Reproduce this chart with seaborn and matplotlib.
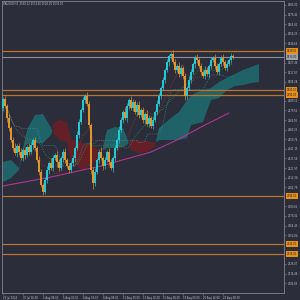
import numpy as np
import pandas as pd
import matplotlib
matplotlib.use("Agg")
import matplotlib.pyplot as plt
import matplotlib.transforms as mtransforms
import seaborn as sns

# ---------------- data ----------------
first_open = 2482
close = [2491, 2484, 2472, 2462, 2450, 2442, 2437, 2444, 2438, 2432,
         2440, 2435, 2443, 2438, 2445, 2450, 2442, 2430, 2418, 2405,
         2398, 2410, 2420, 2427, 2422, 2432, 2435, 2428, 2422, 2432,
         2438, 2430, 2424, 2420, 2427, 2432, 2442, 2455, 2468, 2480,
         2490, 2494, 2486, 2465, 2420, 2407, 2418, 2430, 2438, 2432,
         2424, 2430, 2438, 2428, 2422, 2432, 2442, 2450, 2460, 2470,
         2478, 2472, 2484, 2490, 2482, 2488, 2478, 2485, 2475, 2480,
         2470, 2476, 2466, 2472, 2464, 2470, 2478, 2486, 2494, 2502,
         2510, 2520, 2528, 2534, 2536, 2528, 2520, 2524, 2516, 2522,
         2514, 2494, 2502, 2510, 2518, 2526, 2532, 2530, 2524, 2518,
         2514, 2520, 2516, 2524, 2530, 2532, 2524, 2518, 2526, 2532,
         2528, 2522, 2526, 2530, 2534, 2533]
upper_wick = [2, 3, 2, 4, 2, 3, 5, 2, 3, 4,
              2, 3, 2, 4, 3, 2, 3, 2, 4, 3,
              2, 3, 4, 2, 5, 3, 2, 4, 3, 2,
              3, 4, 2, 3, 2, 3, 2, 4, 3, 2,
              3, 2, 4, 3, 2, 3, 4, 2, 3, 5,
              2, 3, 2, 4, 3, 2, 3, 2, 4, 3,
              2, 5, 3, 2, 4, 3, 2, 3, 4, 2,
              3, 2, 4, 3, 2, 3, 2, 4, 3, 2,
              3, 2, 3, 2, 2, 4, 3, 2, 4, 3,
              2, 3, 2, 4, 3, 2, 3, 4, 2, 3,
              2, 4, 3, 2, 3, 2, 4, 3, 2, 3,
              4, 2, 3, 2, 3, 2]
lower_wick = [3, 2, 4, 3, 2, 3, 2, 4, 3, 2,
              3, 4, 2, 3, 2, 4, 3, 2, 3, 2,
              3, 2, 3, 4, 2, 3, 2, 5, 3, 2,
              4, 3, 2, 3, 2, 3, 4, 2, 3, 2,
              2, 3, 2, 3, 4, 6, 3, 2, 3, 2,
              4, 3, 2, 3, 2, 4, 3, 2, 3, 2,
              3, 2, 4, 3, 2, 3, 2, 4, 3, 2,
              3, 4, 2, 3, 2, 3, 2, 3, 2, 3,
              2, 3, 2, 4, 3, 2, 3, 2, 3, 2,
              3, 4, 3, 2, 3, 2, 4, 3, 2, 3,
              2, 3, 2, 4, 3, 2, 3, 2, 3, 2,
              3, 2, 3, 2, 3, 2]

# Ichimoku cloud spans (shifted forward), sampled candles
cloud_idx = [0, 4, 8, 10, 12, 16, 20, 24, 26, 28, 32, 34, 36, 40, 44, 48, 50, 52, 56, 60,
             62, 64, 68, 72, 76, 78, 80, 84, 88, 92, 94, 96, 100, 104, 108, 112, 116, 120, 124, 128]
span_a = [2428, 2430, 2422, 2442, 2460, 2475, 2476, 2462, 2455, 2450, 2448, 2428, 2425, 2420,
          2425, 2432, 2442, 2460, 2463, 2462, 2452, 2440, 2437, 2438, 2444, 2462, 2465, 2472,
          2478, 2490, 2494, 2497, 2500, 2502, 2508, 2512, 2516, 2520, 2523, 2526]
span_b = [2408, 2412, 2420, 2440, 2446, 2447, 2447, 2455, 2468, 2470, 2468, 2450, 2450, 2447,
          2445, 2440, 2440, 2442, 2442, 2443, 2445, 2450, 2450, 2449, 2447, 2450, 2450, 2450,
          2450, 2452, 2465, 2466, 2468, 2490, 2492, 2500, 2504, 2505, 2507, 2508]

# long moving average (magenta)
ma_idx = [0, 24, 49, 74, 87, 100, 113]
ma_val = [2404, 2413, 2424, 2438, 2450, 2464, 2477]

# horizontal levels
levels_orange = [2539, 2500, 2495, 2394, 2346, 2336]
level_current = 2533

# axis labels
price_ticks = [2585.00, 2575.41, 2565.82, 2556.23, 2546.64, 2527.46, 2517.87, 2508.28,
               2489.10, 2479.51, 2469.92, 2460.33, 2450.74, 2441.15, 2431.56, 2421.97,
               2412.38, 2402.79, 2383.61, 2374.02, 2364.43, 2354.84, 2326.07, 2316.48, 2306.89]
time_tick_idx = [0, 10, 20, 30, 40, 50, 60, 70, 80, 90, 100, 110]
time_labels = ["29 Jul 2024", "30 Jul 16:00", "1 Aug 08:00", "5 Aug 00:00",
               "6 Aug 16:00", "8 Aug 08:00", "12 Aug 00:00", "13 Aug 16:00",
               "15 Aug 08:00", "19 Aug 00:00", "20 Aug 16:00", "22 Aug 08:00"]
title_text = "XAUUSD,H4  2530.12 2534.60 2528.40 2533.00"

# ---------------- styling ----------------
BG = "#2c2d3b"
BULL = "#28c8d2"
BEAR = "#e0962a"
TXT = "#c4c4cc"
sns.set_theme(style="dark", rc={"axes.facecolor": BG, "figure.facecolor": BG,
                                "axes.edgecolor": "#85858f", "axes.linewidth": 0.6})

fig = plt.figure(figsize=(3, 3), dpi=100)
ax = fig.add_axes([2 / 300, 7 / 300, 282 / 300, 292 / 300])
ax.set_facecolor(BG)

# ---------------- OHLC ----------------
df = pd.DataFrame({"close": close})
df["idx"] = np.arange(len(df))
df["open"] = [first_open] + close[:-1]
df["high"] = df[["open", "close"]].max(axis=1) + np.array(upper_wick)
df["low"] = df[["open", "close"]].min(axis=1) - np.array(lower_wick)
df["up"] = df["close"] >= df["open"]

# cloud
a = np.array(span_a); b = np.array(span_b)
ax.fill_between(cloud_idx, a, b, where=a >= b, interpolate=True,
                color="#1e6a6e", alpha=0.9, lw=0, zorder=1)
ax.fill_between(cloud_idx, a, b, where=a < b, interpolate=True,
                color="#6b1f24", alpha=0.9, lw=0, zorder=1)

# indicator lines derived from the candles
tenkan = (df["high"].rolling(9, min_periods=1).max() + df["low"].rolling(9, min_periods=1).min()) / 2
kijun = (df["high"].rolling(26, min_periods=1).max() + df["low"].rolling(26, min_periods=1).min()) / 2
sma_mid = df["close"].rolling(20, min_periods=1).mean()
sns.lineplot(x=df["idx"], y=tenkan, ax=ax, color="#b8352c", lw=0.5, linestyle=":", zorder=2)
sns.lineplot(x=df["idx"], y=kijun, ax=ax, color="#2a9fb0", lw=0.5, linestyle=":", zorder=2)
sns.lineplot(x=df["idx"], y=sma_mid, ax=ax, color="#3aa040", lw=0.5, linestyle=":", zorder=2)

# long MA
sns.lineplot(x=ma_idx, y=ma_val, ax=ax, color="#b0358c", lw=0.8, zorder=2)

# horizontal levels
for lv in levels_orange:
    ax.axhline(lv, color="#b8742a", lw=0.9, zorder=1.5)
ax.axhline(level_current, color="#8c8c98", lw=0.8, zorder=1.5)

# candles
colors = np.where(df["up"], BULL, BEAR)
ax.vlines(df["idx"], df["low"], df["high"], colors=colors, lw=0.45, zorder=3)
body_bottom = df[["open", "close"]].min(axis=1)
body_h = (df["close"] - df["open"]).abs().clip(lower=0.6)
ax.bar(df["idx"], body_h, bottom=body_bottom, width=0.65, color=colors, lw=0, zorder=3)

# axes
ax.set_xlim(-0.5, 140.5)
ax.set_ylim(2297, 2589)
ax.yaxis.tick_right()
ax.set_yticks(price_ticks)
ax.set_yticklabels([f"{v:.2f}" for v in price_ticks])
ax.set_xticks(time_tick_idx)
ax.set_xticklabels(time_labels, ha="left")
ax.tick_params(axis="y", length=1.5, width=0.4, colors="#85858f", labelcolor=TXT,
               labelsize=1.8, pad=1, right=True, left=False)
ax.tick_params(axis="x", length=1.5, width=0.4, colors="#85858f", labelcolor=TXT,
               labelsize=1.8, pad=0.5, bottom=True)
ax.set_xlabel(""); ax.set_ylabel("")
ax.grid(False)
for s in ax.spines.values():
    s.set_color("#85858f"); s.set_linewidth(0.6)

# price labels on the right
trans = mtransforms.blended_transform_factory(ax.transAxes, ax.transData)
for lv in levels_orange:
    ax.text(1.01, lv, f"{lv:.2f}", transform=trans, fontsize=1.8, color="#1e1e1e",
            va="center", ha="left", clip_on=False,
            bbox=dict(boxstyle="square,pad=0.25", fc="#e8901a", ec="none"))
ax.text(1.01, level_current, f"{level_current:.2f}", transform=trans, fontsize=1.8,
        color="#1e1e1e", va="center", ha="left", clip_on=False,
        bbox=dict(boxstyle="square,pad=0.25", fc="#a0a0a8", ec="none"))

ax.text(0.004, 0.997, title_text, transform=ax.transAxes, fontsize=1.8, color=TXT,
        va="top", ha="left")

fig.savefig("out.png", dpi=100, facecolor=BG)
